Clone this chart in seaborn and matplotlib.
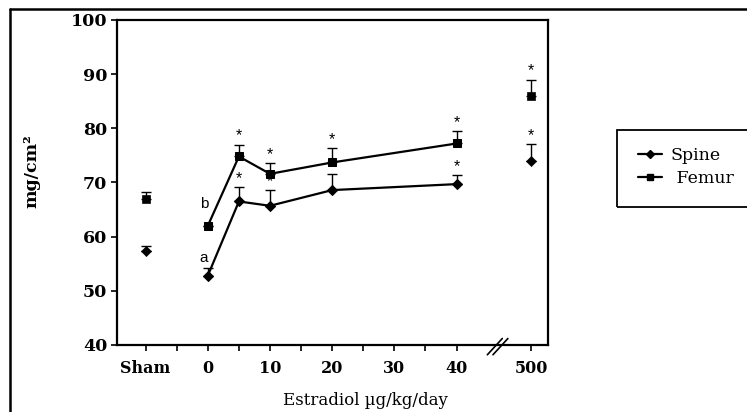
import numpy as np
import pandas as pd
import matplotlib
matplotlib.use("Agg")
import matplotlib.pyplot as plt
import seaborn as sns
from matplotlib.lines import Line2D
from matplotlib.patches import Rectangle
import matplotlib.transforms as mtransforms

# ---------------- data ----------------
doses = ["Sham", "0", "5", "10", "20", "40", "500"]
spine_bmd = [57.4, 52.8, 66.5, 65.7, 68.6, 69.7, 73.9]
spine_se = [0.8, 1.4, 2.6, 2.9, 3.0, 1.6, 3.2]
femur_bmd = [66.9, 62.0, 74.8, 71.6, 73.7, 77.2, 86.0]
femur_se = [1.4, 0.0, 2.2, 2.0, 2.6, 2.3, 3.0]
spine_sig = ["", "a", "*", "*", "*", "*", "*"]
femur_sig = ["", "b", "*", "*", "*", "*", "*"]
sites = ["Spine", "Femur"]
y_ticks = [40, 50, 60, 70, 80, 90, 100]
x_tick_labels = ["Sham", "0", "10", "20", "30", "40", "500"]
x_label_text = "Estradiol \u00b5g/kg/day"
y_label_text = "mg/cm\u00b2"

# axis position for each dose (broken axis: Sham left of 0, 500 after break)
SHAM_POS, BREAK_POS, HIGH_POS = -10, 46.6, 52


def dose_pos(d):
    if d == "Sham":
        return SHAM_POS
    v = float(d)
    return v if v <= 40 else HIGH_POS


rows = []
for site, bmd, se, sig in [("Spine", spine_bmd, spine_se, spine_sig),
                           ("Femur", femur_bmd, femur_se, femur_sig)]:
    for d, b, s, g in zip(doses, bmd, se, sig):
        rows.append(dict(dose=d, pos=dose_pos(d), site=site, bmd=b, se=s, sig=g))
df = pd.DataFrame(rows)
connected = df[(df.dose != "Sham") & (df.dose != "500")]
isolated = df[(df.dose == "Sham") | (df.dose == "500")]

# ---------------- style ----------------
sns.set_theme(style="ticks")
SERIF = ["DejaVu Serif", "Liberation Serif"]
SANS = ["Liberation Sans", "DejaVu Sans"]
plt.rcParams["font.family"] = SERIF
plt.rcParams["axes.linewidth"] = 1.5
for k in ["text.color", "axes.labelcolor", "xtick.color", "ytick.color",
          "axes.edgecolor"]:
    plt.rcParams[k] = "black"

fig = plt.figure(figsize=(7.47, 4.12), dpi=100)
ax = fig.add_axes([117 / 747, 1 - 345 / 412, (548 - 117) / 747, (345 - 20) / 412])

markers = {"Spine": "D", "Femur": "s"}
msizes = {"Spine": 5.2, "Femur": 6.0}

# error bars (upper only)
for site in sites:
    sub = df[df.site == site]
    ax.errorbar(sub.pos, sub.bmd, yerr=[np.zeros(len(sub)), sub.se], fmt="none",
                ecolor="black", elinewidth=1.0, capsize=3.5, capthick=1.0, zorder=2)

sns.lineplot(data=connected, x="pos", y="bmd", style="site", style_order=sites,
             markers=markers, dashes=False, color="black", linewidth=1.6,
             markersize=6, markeredgecolor="black", ax=ax, legend=False,
             estimator=None, sort=True, zorder=3)
for line in ax.lines:
    if line.get_marker() == "D":
        line.set_markersize(msizes["Spine"])
    elif line.get_marker() == "s":
        line.set_markersize(msizes["Femur"])

for site in sites:
    sns.scatterplot(data=isolated[isolated.site == site], x="pos", y="bmd",
                    marker=markers[site], color="black", edgecolor="black",
                    s=msizes[site] ** 2, ax=ax, legend=False, zorder=3)

# significance marks
for _, r in df.iterrows():
    if r.sig == "*":
        ax.text(r.pos, r.bmd + r.se + 0.2, "*", ha="center", va="bottom",
                fontsize=11.5, family=SANS, zorder=4)
    elif r.sig in ("a", "b"):
        ax.text(r.pos - 0.6, r.bmd + (1.9 if r.sig == "a" else 2.8), r.sig,
                ha="center", va="bottom", fontsize=11, family=SANS)

# axes
ax.set_xlim(-14.6, 54.7)
ax.set_ylim(40, 100)
ax.set_yticks(y_ticks)
ax.set_yticklabels([str(t) for t in y_ticks], fontweight="bold", fontsize=12.5)
ax.set_xticks([dose_pos(d) for d in x_tick_labels])
ax.set_xticklabels(x_tick_labels, fontweight="bold", fontsize=11.5)
ax.set_xticks([-5, 5, 15, 25, 35], minor=True)
ax.tick_params(axis="both", which="both", direction="out", length=4, width=1.2,
               color="black", pad=3, labelcolor="black")
ax.tick_params(axis="x", which="both", pad=7)
for sp in ax.spines.values():
    sp.set_color("black")
    sp.set_linewidth(1.6)

ax.set_xlabel(x_label_text, fontsize=12, color="black")
ax.xaxis.set_label_coords((365 - 117) / 431, -0.145)
ax.set_ylabel(y_label_text, fontsize=12.5, fontweight="bold", color="black")
ax.yaxis.set_label_coords(-0.178, 0.535)

# axis break mark
trans = mtransforms.blended_transform_factory(ax.transData, ax.transAxes)
for off in (-0.45, 0.45):
    ax.plot([BREAK_POS + off - 1.2, BREAK_POS + off + 1.2], [-0.03, 0.02],
            transform=trans, color="black", lw=1.2, clip_on=False)

# legend box
fig.add_artist(Rectangle((617 / 747, 1 - 207 / 412), 0.3, 77 / 412,
                         transform=fig.transFigure, fill=False, lw=1.3,
                         edgecolor="black", clip_on=False))
handles = [Line2D([], [], color="black", lw=1.6, marker=markers[s],
                  markersize=msizes[s] - 1.5) for s in sites]
leg = fig.legend(handles, ["Spine", " Femur"], loc="upper left",
                 bbox_to_anchor=(629 / 747, 1 - 138 / 412), frameon=False,
                 fontsize=12.5, handlelength=1.4, handletextpad=0.5,
                 labelspacing=0.35, borderpad=0.0)
for t in leg.get_texts():
    t.set_color("black")

# outer frame (top and left visible)
fig.add_artist(Line2D([10 / 747, 1.0], [1 - 9 / 412, 1 - 9 / 412],
                      transform=fig.transFigure, color="black", lw=1.8))
fig.add_artist(Line2D([10 / 747, 10 / 747], [0, 1 - 9 / 412],
                      transform=fig.transFigure, color="black", lw=1.8))

fig.savefig("out.png", dpi=100)
